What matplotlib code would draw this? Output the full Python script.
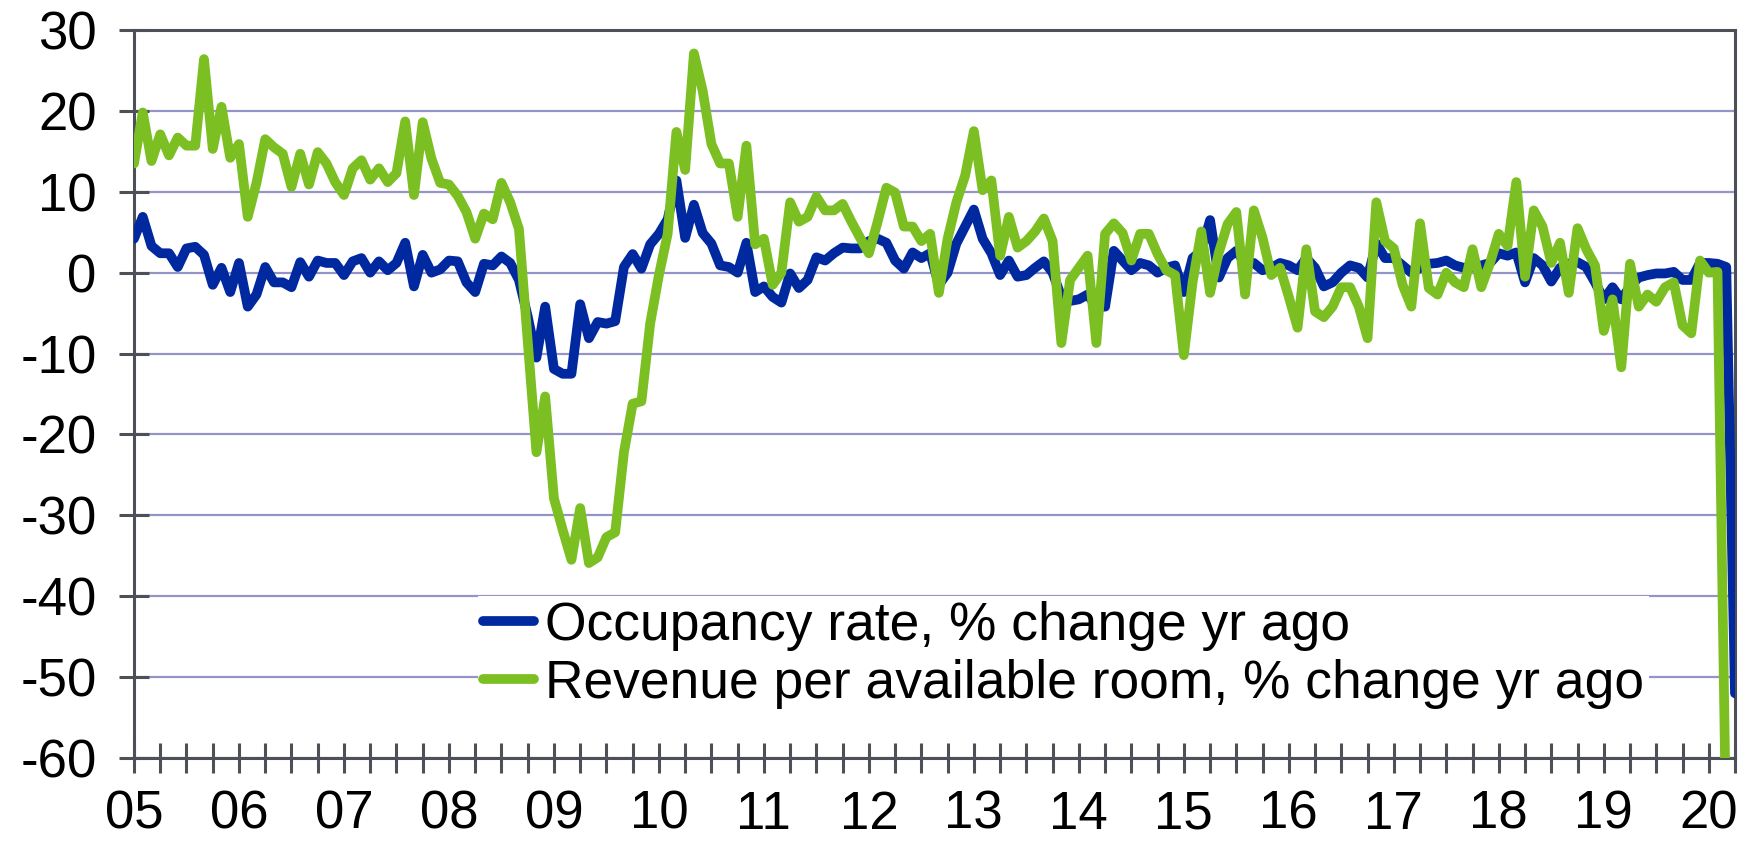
import numpy as np
import matplotlib.pyplot as plt
from matplotlib.ticker import MultipleLocator

# monthly, Jan 2005 onwards
occupancy = [
    4.2, 6.9, 3.3, 2.4, 2.4, 0.7, 3.0, 3.2, 2.2, -1.5,
    0.6, -2.4, 1.2, -4.2, -2.7, 0.7, -1.2, -1.2, -1.8, 1.3,
    -0.5, 1.5, 1.2, 1.2, -0.3, 1.4, 1.8, 0.0, 1.4, 0.3,
    1.2, 3.7, -1.7, 2.2, 0.0, 0.4, 1.5, 1.4, -1.2, -2.4,
    1.1, 0.9, 2.0, 1.2, -0.9, -5.4, -10.5, -4.2, -11.9, -12.5,
    -12.5, -3.9, -8.1, -6.1, -6.3, -6.0, 0.7, 2.3, 0.5, 3.5,
    4.8, 6.6, 11.4, 4.3, 8.4, 4.9, 3.6, 0.9, 0.7, 0.0,
    3.7, -2.4, -1.7, -3.0, -3.7, -0.1, -1.9, -0.9, 1.9, 1.5,
    2.4, 3.1, 3.0, 3.0, 3.9, 4.2, 3.7, 1.5, 0.5, 2.5,
    1.8, 2.4, -1.5, 0.0, 3.6, 5.7, 7.8, 4.2, 2.4, -0.3,
    1.5, -0.5, -0.3, 0.6, 1.4, 0.0, -3.0, -3.5, -3.3, -2.7,
    -4.2, -4.2, 2.7, 1.5, 0.3, 1.2, 0.9, 0.0, 0.6, 0.9,
    -2.4, 1.8, 2.7, 6.5, -0.6, 1.8, 2.7, 1.2, 1.2, 0.3,
    0.6, 1.2, 0.9, 0.3, 1.8, 0.6, -1.7, -1.2, 0.0, 0.9,
    0.6, -0.6, 3.6, 1.8, 1.8, 0.9, 0.0, 0.6, 1.1, 1.2,
    1.5, 0.9, 0.6, 0.7, 0.9, 1.2, 2.4, 2.1, 2.5, -1.2,
    1.8, 0.9, -1.1, 0.6, 1.1, 1.3, 0.7, -1.2, -3.3, -1.8,
    -3.3, -1.7, -0.6, -0.3, -0.1, -0.1, 0.1, -0.9, -0.9, 1.2,
    1.2, 1.1, 0.7, -52.0,
]
revpar = [
    13.5, 19.8, 13.8, 17.1, 14.5, 16.7, 15.7, 15.7, 26.4, 15.3,
    20.5, 14.2, 15.9, 6.9, 11.1, 16.5, 15.5, 14.7, 10.6, 14.7,
    10.9, 14.9, 13.5, 11.2, 9.6, 12.9, 13.9, 11.5, 12.9, 11.2,
    12.3, 18.7, 9.6, 18.6, 14.1, 11.1, 10.9, 9.5, 7.5, 4.2,
    7.3, 6.6, 11.1, 8.7, 5.4, -8.4, -22.2, -15.3, -27.9, -31.8,
    -35.5, -29.1, -35.9, -35.2, -32.7, -32.1, -22.2, -16.2, -15.9, -6.3,
    -0.3, 4.8, 17.4, 12.7, 27.1, 22.5, 15.9, 13.5, 13.5, 6.9,
    15.7, 3.5, 4.2, -1.5, 0.0, 8.7, 6.3, 6.9, 9.4, 7.7,
    7.7, 8.5, 6.3, 4.3, 2.4, 6.3, 10.5, 9.9, 5.7, 5.7,
    3.9, 4.8, -2.5, 4.2, 8.7, 12.0, 17.5, 10.2, 11.4, 2.1,
    6.9, 3.1, 3.9, 5.1, 6.7, 3.9, -8.7, -0.9, 0.6, 2.1,
    -8.7, 4.8, 6.1, 4.9, 1.5, 4.8, 4.8, 2.3, 0.3, -0.3,
    -10.2, -1.2, 5.1, -2.5, 2.5, 6.0, 7.5, -2.7, 7.7, 4.3,
    -0.3, 0.6, -3.0, -6.8, 2.9, -4.8, -5.5, -4.2, -1.8, -1.8,
    -4.2, -8.1, 8.7, 3.9, 3.0, -1.5, -4.2, 6.1, -1.9, -2.7,
    0.0, -1.2, -1.8, 2.9, -1.8, 1.2, 4.8, 3.3, 11.2, -0.5,
    7.7, 5.7, 1.2, 3.7, -2.5, 5.5, 2.9, 0.9, -7.2, -3.3,
    -11.7, 1.1, -4.2, -2.7, -3.6, -1.8, -1.2, -6.5, -7.5, 1.5,
    0.0, 0.1, -70.0,
]
years = list(range(2005, 2021))
year_labels = [str(y)[2:] for y in years]
labels = ["Occupancy rate, % change yr ago",
          "Revenue per available room, % change yr ago"]

plt.rcParams['font.family'] = ['Liberation Sans', 'DejaVu Sans']
plt.rcParams['axes.unicode_minus'] = False

t_occ = 2005 + np.arange(len(occupancy)) / 12
t_rev = 2005 + np.arange(len(revpar)) / 12

fig = plt.figure(figsize=(17.54, 8.44), dpi=100)
ax = fig.add_axes([134 / 1754, 86 / 844, 1601 / 1754, 728 / 844])

ax.plot(t_occ, occupancy, color='#0029A0', lw=7, solid_joinstyle='round',
        solid_capstyle='round', label=labels[0], zorder=3)
ax.plot(t_rev, revpar, color='#7BBF22', lw=7, solid_joinstyle='round',
        solid_capstyle='round', label=labels[1], zorder=4)

ax.set_xlim(2005, 2020.25)
ax.set_ylim(-60, 30)
ax.set_yticks(range(-60, 31, 10))
ax.set_xticks(years)
ax.set_xticklabels(year_labels)
ax.xaxis.set_minor_locator(MultipleLocator(0.25))

axis_col = '#4D5157'
ax.tick_params(axis='both', which='both', direction='inout', length=22,
               width=2.2, color=axis_col, labelsize=38)
ax.tick_params(axis='x', pad=12)
ax.tick_params(axis='y', pad=16)
ax.set_axisbelow(True)
ax.grid(axis='y', color='#9494C8', lw=1.6)
for s in ax.spines.values():
    s.set_color(axis_col)
    s.set_linewidth(2.2)

leg = ax.legend(loc='center left', bbox_to_anchor=(478 / 1754, 189 / 844),
                bbox_transform=fig.transFigure, fontsize=38.4, frameon=True,
                facecolor='white', edgecolor='none', framealpha=1,
                fancybox=False, borderpad=0.1, borderaxespad=0,
                handlelength=0.95, handletextpad=0.2, labelspacing=0.15)
leg.set_zorder(5)

plt.savefig("out.png", dpi=100)
